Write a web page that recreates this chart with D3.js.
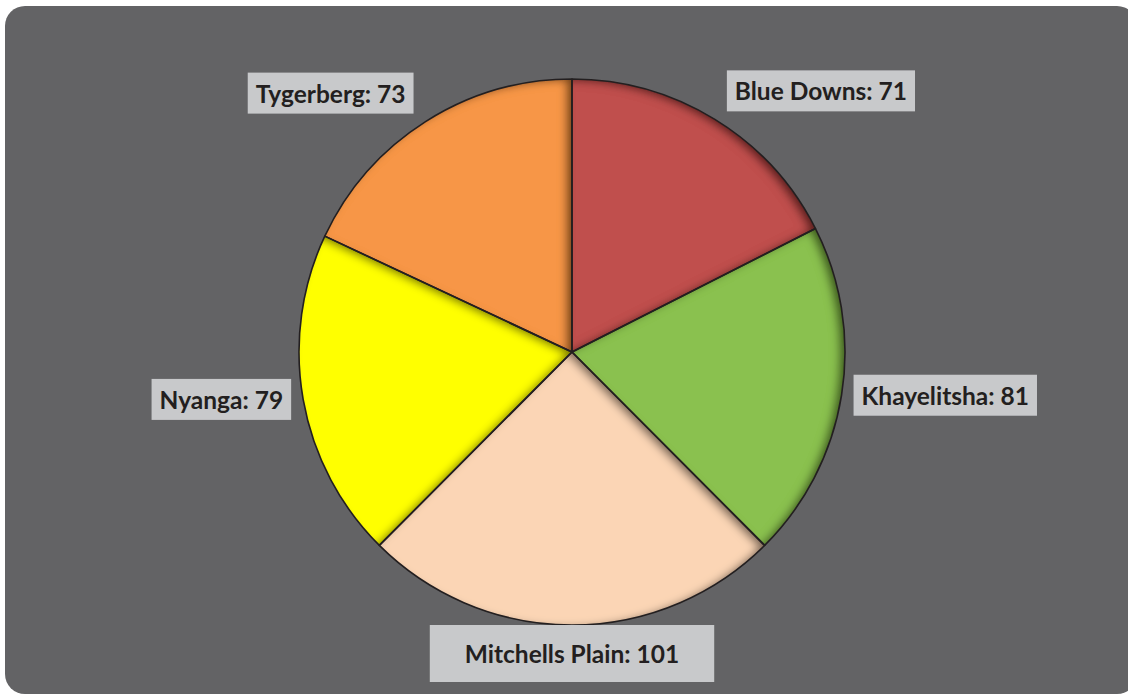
<!DOCTYPE html>
<html>
<head>
<meta charset="utf-8">
<script src="https://cdn.jsdelivr.net/npm/d3@7"></script>
<style>
  html, body { margin: 0; padding: 0; background: #ffffff; }
  svg { display: block; }
</style>
</head>
<body>
<svg id="chart" width="1128" height="695"></svg>
<script>
// Areas and their counts, clockwise from 12 o'clock
const areas  = ["Blue Downs", "Khayelitsha", "Mitchells Plain", "Nyanga", "Tygerberg"];
const counts = [71, 81, 101, 79, 73];
const sliceColors = ["#c0504d", "#8ac150", "#fbd5b5", "#ffff00", "#f79646"];

const W = 1128, H = 695;
const cx = 572, cy = 352, radius = 273;

const svg = d3.select("#chart");

// Inner shadow that darkens the upper/right inside edges of each slice
const defs = svg.append("defs");
const f = defs.append("filter").attr("id", "innerShadow")
  .attr("x", "-20%").attr("y", "-20%").attr("width", "140%").attr("height", "140%");
f.append("feComponentTransfer").attr("in", "SourceAlpha").attr("result", "inv")
  .append("feFuncA").attr("type", "table").attr("tableValues", "1 0");
f.append("feGaussianBlur").attr("in", "inv").attr("stdDeviation", 4.5).attr("result", "blur");
f.append("feOffset").attr("in", "blur").attr("dx", -6).attr("dy", 2).attr("result", "off");
f.append("feFlood").attr("flood-color", "#000").attr("flood-opacity", 0.8).attr("result", "col");
f.append("feComposite").attr("in", "col").attr("in2", "off").attr("operator", "in").attr("result", "sh");
f.append("feComposite").attr("in", "sh").attr("in2", "SourceAlpha").attr("operator", "in").attr("result", "shIn");
const merge = f.append("feMerge");
merge.append("feMergeNode").attr("in", "SourceGraphic");
merge.append("feMergeNode").attr("in", "shIn");

// Chart area background
svg.append("rect")
  .attr("x", 5).attr("y", 6).attr("width", W + 4).attr("height", H - 7)
  .attr("rx", 20).attr("ry", 20)
  .attr("fill", "#636365");

const pie = d3.pie().value(d => d).sort(null);
const arcs = pie(counts);
const arc = d3.arc().innerRadius(0).outerRadius(radius);
const color = d3.scaleOrdinal().domain(areas).range(sliceColors);

const g = svg.append("g").attr("transform", `translate(${cx},${cy})`);

g.selectAll("path.slice")
  .data(arcs)
  .join("path")
  .attr("class", "slice")
  .attr("d", arc)
  .attr("fill", (d, i) => color(areas[i]))
  .attr("filter", "url(#innerShadow)");

g.selectAll("path.edge")
  .data(arcs)
  .join("path")
  .attr("class", "edge")
  .attr("d", arc)
  .attr("fill", "none")
  .attr("stroke", "#231f20")
  .attr("stroke-width", 1.6)
  .attr("stroke-linejoin", "round");

// Data labels placed just outside the arc at each slice's mid-angle
const fontSize = 24.5;
const labels = svg.append("g")
  .attr("font-family", "Lato, 'Open Sans', sans-serif")
  .attr("font-weight", 700)
  .attr("font-size", fontSize)
  .attr("fill", "#231f20");

const boxH = 41, baseOff = 30, padX = 8, gapX = 12, gapY = 8;

arcs.forEach((a, i) => {
  const mid = (a.startAngle + a.endAngle) / 2;
  const sx = Math.sin(mid), sy = -Math.cos(mid);
  const px = cx + radius * sx, py = cy + radius * sy;

  const grp = labels.append("g");
  const txt = grp.append("text").text(`${areas[i]}: ${counts[i]}`);
  const tw = txt.node().getComputedTextLength();

  const wide = Math.abs(sx) < 0.2;
  const extraX = wide ? 27 : 0, extraY = wide ? 8 : 0;

  let left;
  if (sx > 0.2) left = px + gapX;
  else if (sx < -0.2) left = px - gapX - (tw + 2 * padX);
  else left = px - (tw + 2 * padX) / 2;

  let top;
  if (sy < -0.5) top = py - gapY - boxH;
  else if (sy > 0.5) top = py + gapY;
  else top = py - boxH / 2;

  grp.insert("rect", "text")
    .attr("x", left - extraX).attr("y", top - extraY)
    .attr("width", tw + 2 * padX + 2 * extraX).attr("height", boxH + 2 * extraY)
    .attr("fill", "#c8c9cb");
  txt.attr("x", left + padX).attr("y", top + baseOff);
});
</script>
</body>
</html>
